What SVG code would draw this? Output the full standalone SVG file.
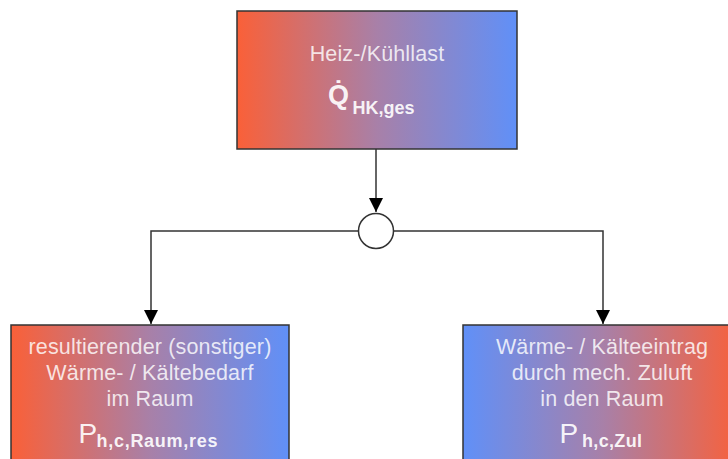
<svg xmlns="http://www.w3.org/2000/svg" width="728" height="459" viewBox="0 0 728 459">
<defs>
<linearGradient id="rb" x1="0" y1="0" x2="1" y2="0">
<stop offset="0" stop-color="#FA6038"/>
<stop offset="0.5" stop-color="#A880A8"/>
<stop offset="1" stop-color="#6090F8"/>
</linearGradient>
<linearGradient id="br" x1="0" y1="0" x2="1" y2="0">
<stop offset="0" stop-color="#6090F8"/>
<stop offset="0.5" stop-color="#A880A8"/>
<stop offset="1" stop-color="#FA6038"/>
</linearGradient>
<marker id="arr" markerWidth="15" markerHeight="14" refX="14" refY="7" orient="auto" markerUnits="userSpaceOnUse">
<path d="M0,0 L14,7 L0,14 Z" fill="#000"/>
</marker>
</defs>
<style>
.box{stroke:#333;stroke-width:1.5}
.t{font-family:"Liberation Sans",Arial,sans-serif;font-size:21.5px;letter-spacing:0.15px;fill:#fff;fill-opacity:0.82;text-anchor:middle}
.big{font-family:"Liberation Sans",Arial,sans-serif;font-size:28px;fill:#fff;fill-opacity:0.92}
.bigb{font-family:"Liberation Sans",Arial,sans-serif;font-size:27px;font-weight:bold;fill:#fff;fill-opacity:0.92}
.sub{font-family:"Liberation Sans",Arial,sans-serif;font-size:18px;font-weight:bold;fill:#fff;fill-opacity:0.92}
.c{fill:none;stroke:#333;stroke-width:1.5}
</style>
<g id="connectors">
<path class="c" d="M376,149 V212" marker-end="url(#arr)"/>
<path class="c" d="M358.5,231 H151 V324" marker-end="url(#arr)"/>
<path class="c" d="M393.5,231 H603 V324" marker-end="url(#arr)"/>
</g>
<g id="junction">
<circle cx="376" cy="231" r="17.5" fill="#fff" stroke="#333" stroke-width="1.5"/>
</g>
<g id="node-top">
<rect class="box" x="237" y="11" width="280" height="138" fill="url(#rb)"/>
<text class="t" x="377" y="61">Heiz-/Kühllast</text>
<text class="bigb" x="328" y="104">Q̇</text>
<text class="sub" x="352.5" y="114" textLength="62" lengthAdjust="spacing">HK,ges</text>
</g>
<g id="node-left">
<rect class="box" x="11" y="325" width="278" height="150" fill="url(#rb)"/>
<text class="t" x="150" y="354">resultierender (sonstiger)</text>
<text class="t" x="150" y="380">Wärme- / Kältebedarf</text>
<text class="t" x="150" y="406">im Raum</text>
<text class="big" x="78.5" y="443">P</text>
<text class="sub" x="96.5" y="447" textLength="121" lengthAdjust="spacing">h,c,Raum,res</text>
</g>
<g id="node-right">
<rect class="box" x="463" y="325" width="280" height="150" fill="url(#br)"/>
<text class="t" x="602" y="354">Wärme- / Kälteeintrag</text>
<text class="t" x="602" y="380">durch mech. Zuluft</text>
<text class="t" x="602" y="406">in den Raum</text>
<text class="big" x="559.5" y="443">P</text>
<text class="sub" x="582" y="447" textLength="60" lengthAdjust="spacing">h,c,Zul</text>
</g>
</svg>
